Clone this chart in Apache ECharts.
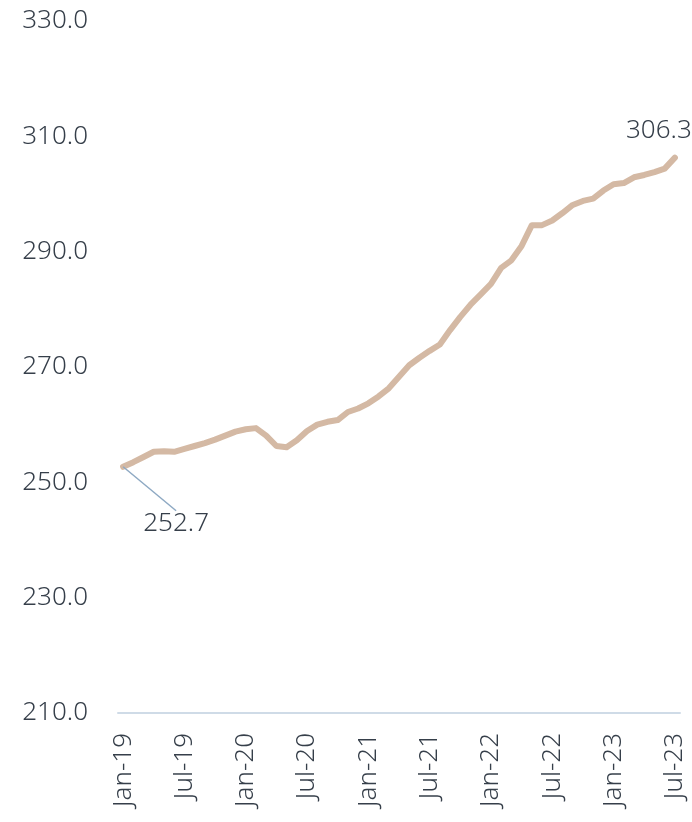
<!DOCTYPE html>
<html>
<head>
<meta charset="utf-8">
<script src="https://cdn.jsdelivr.net/npm/echarts@6/dist/echarts.min.js"></script>
<style>
  html, body { margin: 0; padding: 0; background: #fff; }
  #chart { width: 692px; height: 822px; }
</style>
</head>
<body>
<div id="chart"></div>
<script>
// monthly index, Jan-19 .. Jul-23
const months = [
  'Jan-19','Feb-19','Mar-19','Apr-19','May-19','Jun-19','Jul-19','Aug-19','Sep-19','Oct-19','Nov-19','Dec-19',
  'Jan-20','Feb-20','Mar-20','Apr-20','May-20','Jun-20','Jul-20','Aug-20','Sep-20','Oct-20','Nov-20','Dec-20',
  'Jan-21','Feb-21','Mar-21','Apr-21','May-21','Jun-21','Jul-21','Aug-21','Sep-21','Oct-21','Nov-21','Dec-21',
  'Jan-22','Feb-22','Mar-22','Apr-22','May-22','Jun-22','Jul-22','Aug-22','Sep-22','Oct-22','Nov-22','Dec-22',
  'Jan-23','Feb-23','Mar-23','Apr-23','May-23','Jun-23','Jul-23'
];
const values = [
  252.7, 253.5, 254.4, 255.3, 255.4, 255.3, 255.8, 256.3, 256.8, 257.4, 258.1, 258.8,
  259.2, 259.4, 258.1, 256.3, 256.1, 257.3, 258.9, 260.0, 260.5, 260.8, 262.2, 262.8,
  263.7, 264.9, 266.3, 268.3, 270.3, 271.6, 272.8, 273.9, 276.4, 278.7, 280.8, 282.6,
  284.4, 287.2, 288.5, 291.0, 294.6, 294.6, 295.4, 296.7, 298.1, 298.8, 299.2, 300.6,
  301.7, 301.9, 302.9, 303.3, 303.8, 304.4, 306.3
];
const yTicks = [210, 230, 250, 270, 290, 310, 330];

const textColor = '#363f4a';
const fontFamily = '"Noto Sans", "Open Sans", sans-serif';

const last = values.length - 1;
const seriesData = values.map(function (v, i) {
  if (i === 0) {
    return { value: v, label: { show: true } };
  }
  if (i === last) {
    return { value: v, label: { show: true }, labelLine: { show: false } };
  }
  return v;
});

const chart = echarts.init(document.getElementById('chart'));
chart.setOption({
  animation: false,
  grid: { left: 118, right: 12, top: 21, bottom: 109 },
  xAxis: {
    type: 'category',
    data: months,
    boundaryGap: true,
    axisLine: { lineStyle: { color: '#cfdbe7', width: 2 } },
    axisTick: { show: false },
    axisLabel: {
      interval: 5,
      rotate: 90,
      margin: 20,
      color: textColor,
      fontSize: 26,
      fontWeight: 300,
      fontFamily: fontFamily
    }
  },
  yAxis: {
    type: 'value',
    min: yTicks[0],
    max: yTicks[yTicks.length - 1],
    interval: 20,
    splitLine: { show: false },
    axisLine: { show: false },
    axisTick: { show: false },
    axisLabel: {
      margin: 30,
      color: textColor,
      fontSize: 26,
      fontWeight: 300,
      fontFamily: fontFamily,
      formatter: function (v) { return v.toFixed(1); }
    }
  },
  series: [{
    type: 'line',
    data: seriesData,
    symbol: 'circle',
    symbolSize: 0,
    showAllSymbol: true,
    lineStyle: { color: '#d4b9a4', width: 6, join: 'round', cap: 'round' },
    itemStyle: { color: '#d4b9a4' },
    label: {
      show: false,
      position: 'top',
      distance: 6,
      color: textColor,
      fontSize: 26,
      fontWeight: 300,
      fontFamily: fontFamily,
      formatter: function (p) { return p.value.toFixed(1); }
    },
    labelLine: { show: true, lineStyle: { color: '#8ea9c3', width: 1.5 } },
    labelLayout: function (p) {
      if (p.dataIndex === 0) return { dx: 53, dy: 76 };
      return { dx: -16, dy: -8 };
    }
  }]
});
</script>
</body>
</html>
